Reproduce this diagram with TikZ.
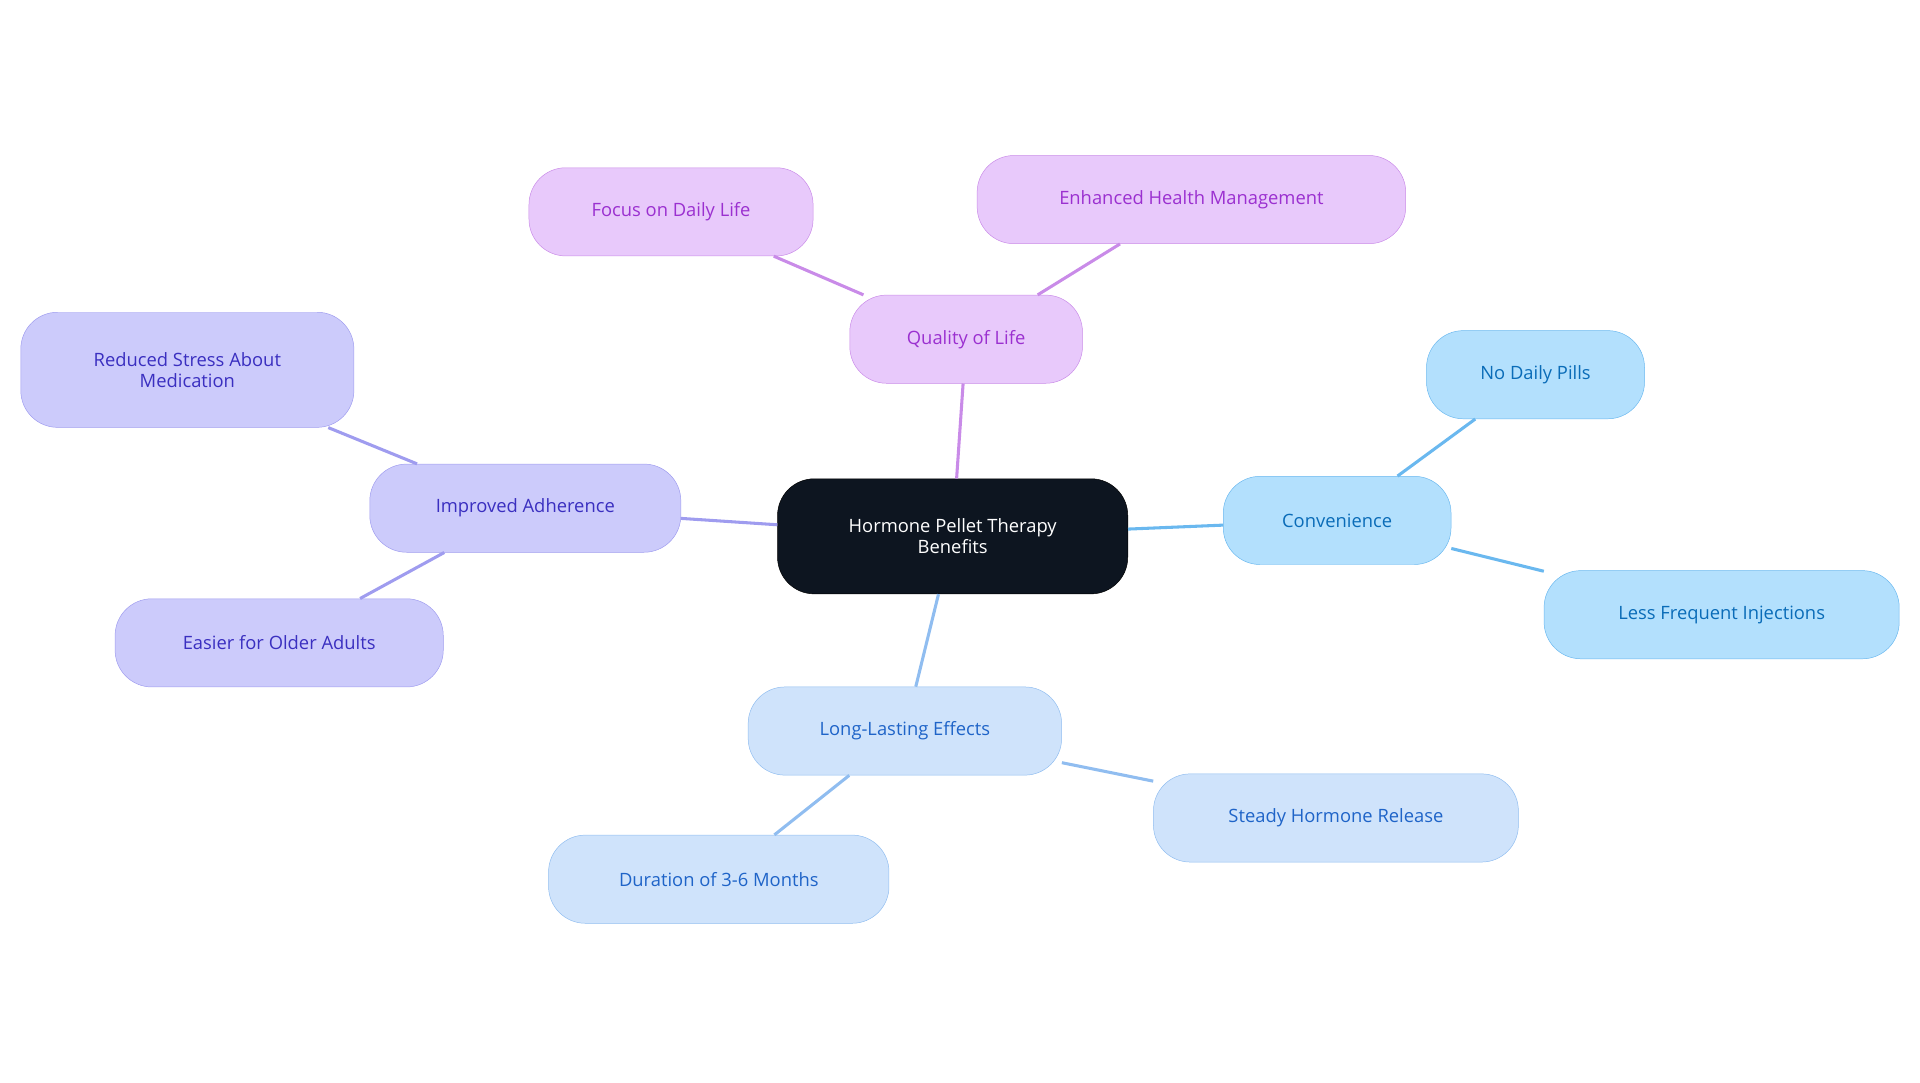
\documentclass[tikz,border=0pt]{standalone}
\usepackage{fontspec}
\setmainfont{Open Sans}
\definecolor{rootfill}{HTML}{0D1520}
\definecolor{qfill}{HTML}{E8C9FB}\definecolor{qline}{HTML}{C98BE8}\definecolor{qtext}{HTML}{9B30D0}
\definecolor{afill}{HTML}{CCCBFB}\definecolor{aline}{HTML}{9F9CEF}\definecolor{atext}{HTML}{3A2FC0}
\definecolor{cfill}{HTML}{B3E0FD}\definecolor{cline}{HTML}{6AB8EF}\definecolor{ctext}{HTML}{0A6CB8}
\definecolor{lfill}{HTML}{CFE3FB}\definecolor{lline}{HTML}{90BDF0}\definecolor{ltext}{HTML}{1F64C8}
\begin{document}
\begin{tikzpicture}[x=1pt,y=-1pt]
\tikzset{every node/.style={rounded corners=30pt, draw, align=center, font=\fontsize{15}{17}\selectfont, inner sep=0pt, minimum height=72pt},
q/.style={fill=qfill, draw=qline, text=qtext},
a/.style={fill=afill, draw=aline, text=atext},
c/.style={fill=cfill, draw=cline, text=ctext},
l/.style={fill=lfill, draw=lline, text=ltext}}
\useasboundingbox (0,0) rectangle (1568,884);
\node[fill=rootfill, draw=black, text=white, minimum width=286pt, minimum height=94pt] (root) at (778,438) {Hormone Pellet Therapy\\Benefits};
\node[q, minimum width=190pt] (qol) at (789,277) {Quality of Life};
\node[q, minimum width=232pt] (focus) at (548,173) {Focus on Daily Life};
\node[q, minimum width=350pt] (health) at (973,163) {Enhanced Health Management};
\node[a, minimum width=254pt] (adh) at (429,415) {Improved Adherence};
\node[a, minimum width=272pt, minimum height=94pt] (stress) at (153,302) {Reduced Stress About\\Medication};
\node[a, minimum width=268pt] (older) at (228,525) {Easier for Older Adults};
\node[c, minimum width=186pt] (conv) at (1092,425) {Convenience};
\node[c, minimum width=178pt] (pills) at (1254,306) {No Daily Pills};
\node[c, minimum width=290pt] (inj) at (1406,502) {Less Frequent Injections};
\node[l, minimum width=256pt] (long) at (739,597) {Long-Lasting Effects};
\node[l, minimum width=298pt] (steady) at (1091,668) {Steady Hormone Release};
\node[l, minimum width=278pt] (dur) at (587,718) {Duration of 3-6 Months};
% connectors
\begin{scope}[line width=2.5pt]
\draw[qline] (root) -- (qol);
\draw[qline] (qol) -- (focus);
\draw[qline] (qol) -- (health);
\draw[aline] (root) -- (adh);
\draw[aline] (adh) -- (stress);
\draw[aline] (adh) -- (older);
\draw[cline] (root) -- (conv);
\draw[cline] (conv) -- (pills);
\draw[cline] (conv) -- (inj);
\draw[lline] (root) -- (long);
\draw[lline] (long) -- (steady);
\draw[lline] (long) -- (dur);
\end{scope}
\end{tikzpicture}
\end{document}
